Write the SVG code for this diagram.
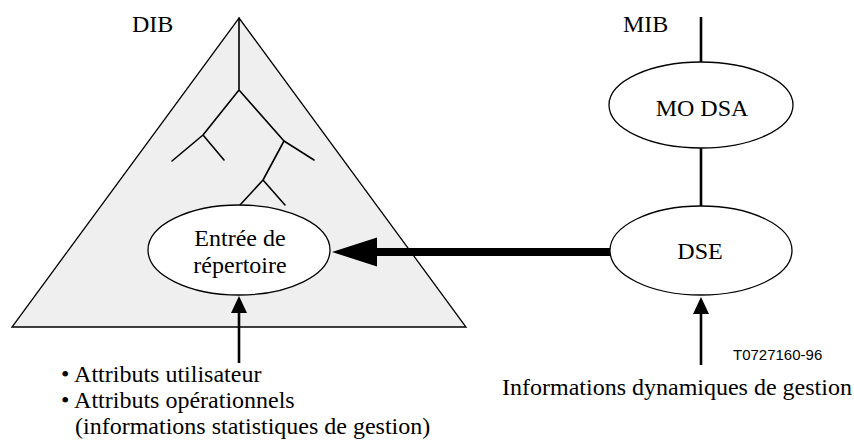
<svg xmlns="http://www.w3.org/2000/svg" width="854" height="441" viewBox="0 0 854 441">
<style>
  text { font-family: "Liberation Serif", "Times New Roman", serif; font-size: 24px; fill: #000; }
  .c { text-anchor: middle; }
  .sans { font-family: "Liberation Sans", Arial, sans-serif; font-size: 15px; }
  .node { fill: #fff; stroke: #000; stroke-width: 1.3; }
  .tree { fill: none; stroke: #000; stroke-width: 1.6; stroke-linecap: round; stroke-linejoin: round; }
  .line { stroke: #000; stroke-width: 2.6; fill: none; }
  .head { fill: #000; stroke: none; }
</style>

<g id="dib">
  <polygon points="239,18 466,327 12,327" fill="#efefef" stroke="#000" stroke-width="1.3"/>
  <text x="132" y="32">DIB</text>
  <path class="tree" d="M239,18 L239,90 L203,135 L172,161 M203,135 L224,160 M239,90 L284,141 L314,160 M284,141 L263,180 L240,205 M263,180 L285,205"/>
</g>

<g id="entree">
  <ellipse class="node" cx="239" cy="250" rx="91" ry="45"/>
  <text class="c" x="240" y="246">Entrée de</text>
  <text class="c" x="240" y="273">répertoire</text>
</g>

<g id="mib">
  <text x="623" y="32">MIB</text>
</g>

<g id="modsa">
  <ellipse class="node" cx="701" cy="105" rx="92" ry="43"/>
  <text class="c" x="702" y="116">MO DSA</text>
</g>

<g id="dse">
  <ellipse class="node" cx="701" cy="250.5" rx="91" ry="44.5"/>
  <text class="c" x="700" y="259">DSE</text>
</g>

<g id="connectors">
  <line class="line" x1="701" y1="17" x2="701" y2="62"/>
  <line class="line" x1="701" y1="148" x2="701" y2="206"/>
  <line x1="610" y1="252" x2="375" y2="252" stroke="#000" stroke-width="8"/>
  <path class="head" d="M332,252 L377,237.5 L377,266.5 Z"/>
  <line class="line" x1="239" y1="363" x2="239" y2="310"/>
  <path class="head" d="M239,296 L247,313 L231,313 Z"/>
  <line class="line" x1="701" y1="365" x2="701" y2="310"/>
  <path class="head" d="M701,297 L709,314 L693,314 Z"/>
</g>

<g id="labels">
  <text x="61" y="382">• Attributs utilisateur</text>
  <text x="61" y="408">• Attributs opérationnels</text>
  <text x="75" y="434">(informations statistiques de gestion)</text>
  <text x="502" y="395">Informations dynamiques de gestion</text>
  <text class="sans" x="733" y="360">T0727160-96</text>
</g>
</svg>
